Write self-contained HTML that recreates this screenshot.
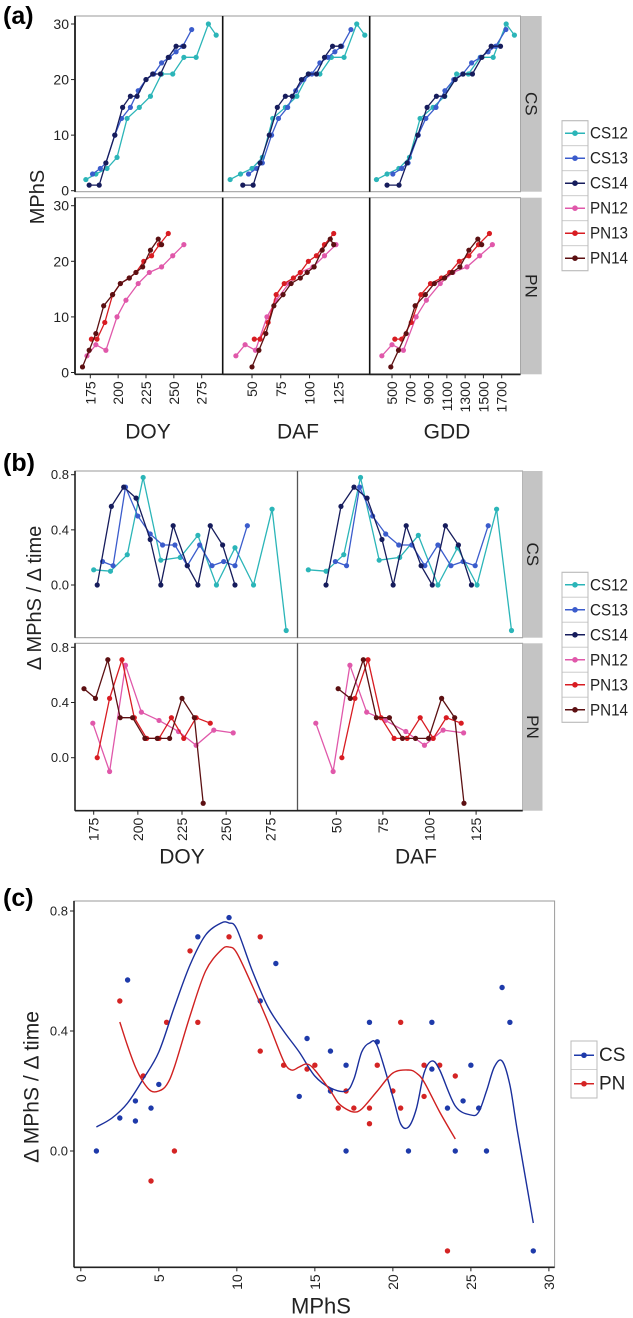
<!DOCTYPE html>
<html><head><meta charset="utf-8"><style>
html,body{margin:0;padding:0;background:#fff;}
svg{display:block;font-family:"Liberation Sans",sans-serif;}
</style></head><body>
<svg id="fig" width="633" height="1318" viewBox="0 0 633 1318" xmlns="http://www.w3.org/2000/svg">
<text x="3" y="24" font-size="25" font-weight="bold">(a)</text>
<text x="3" y="471" font-size="25" font-weight="bold">(b)</text>
<text x="3" y="906" font-size="25" font-weight="bold">(c)</text>
<g id="ga"></g>
<g id="gb"></g>
<g id="gc"></g>
</svg>
<script>
// ---------- Panel (a) data ----------
const cs12Doy=[171,180,190,199,208,219,229,239,249,259,270,281,288];
const cs12M=[2,3,4,6,13,15,17,21,21,24,24,30,28];
const cs12Daf=[31,40,50,59,68,79,89,99,109,119,130,141,148];
const cs12Gdd=[330,446,575,691,807,949,1078,1207,1336,1465,1607,1749,1839];
const cs13Doy=[177,184,189,197,203,211,218,225,232,239,246,252,258,266];
const cs13M=[3,4,5,10,13,15,18,20,21,23,24,25,26,29];
const cs13Daf=[47,54,59,67,73,81,88,95,102,109,116,122,128,136];
const cs13Gdd=[509,606,676,787,870,981,1079,1176,1273,1371,1468,1551,1634,1746];
const cs14Doy=[174,183,189,197,204,211,217,225,231,238,245,252,259];
const cs14M=[1,1,5,10,15,17,17,20,21,21,24,26,26];
const cs14Daf=[42,51,57,65,72,79,85,93,99,106,113,120,127];
const cs14Gdd=[446,577,665,782,884,986,1074,1191,1278,1380,1483,1585,1687];
const pn12Doy=[172,180,189,199,207,218,228,239,249,259];
const pn12M=[3,5,4,10,13,16,18,19,21,23];
const pn12Daf=[36,44,53,63,71,82,92,103,113,123];
const pn12Gdd=[389,500,625,764,876,1028,1167,1320,1459,1598];
const pn13Doy=[176,181,188,195,202,210,216,223,230,237,245];
const pn13M=[6,6,9,14,16,17,18,20,21,23,25];
const pn13Daf=[52,57,64,71,78,86,92,99,106,113,121];
const pn13Gdd=[531,606,711,816,921,1041,1131,1236,1341,1446,1566];
const pn14Doy=[168,174,180,187,195,202,210,216,222,229,236,239];
const pn14M=[1,4,7,12,14,16,17,18,19,22,24,23];
const pn14Daf=[50,56,62,69,77,84,92,98,104,111,118,121];
const pn14Gdd=[487,571,655,753,865,963,1075,1159,1243,1341,1439,1481];
const aYTicks=[0,10,20,30];
const doyTicksA=[175,200,225,250,275];
const dafTicksA=[50,75,100,125];
const gddTicksA=[500,700,900,1100,1300,1500,1700];
// ---------- Panel (b) data ----------
const bCs12Doy=[175,184.5,194,203,213,224,234,244.5,255,265.5,276,284];
const bCs12Daf=[35,44.5,54,63,73,84,94,104.5,115,125.5,136,144];
const bCs12V=[0.11,0.10,0.22,0.78,0.18,0.2,0.36,0,0.27,0,0.55,-0.33];
const bCs13Doy=[180,186,193,200,207,214,221,228,235,242,248.6,255,262];
const bCs13Daf=[49.5,55.5,62.5,69.5,76.5,83.5,90.5,97.5,104.5,111.5,118,124.5,131.5];
const bCs13V=[0.17,0.14,0.71,0.5,0.37,0.29,0.29,0.14,0.29,0.14,0.17,0.14,0.43];
const bCs14Doy=[177,185,192,199,207,213,220,228,234,241,248,255];
const bCs14Daf=[44.5,52.5,59.5,66.5,74.5,80.5,87.5,95.5,101.5,108.5,115.5,122.5];
const bCs14V=[0,0.57,0.71,0.63,0.33,0,0.43,0.14,0,0.43,0.29,0];
const bPn12Doy=[174.5,184,193,202,212,223,233,243,254];
const bPn12Daf=[39,48.3,57.3,66.3,76.3,87.3,97.3,107.3,118.3];
const bPn12V=[0.25,-0.1,0.67,0.33,0.27,0.19,0.09,0.2,0.18];
const bPn13Doy=[177,184,191,198,205,212,219,226,233,241];
const bPn13Daf=[53,60,67,74,81,88,95,102,109,117];
const bPn13V=[0,0.43,0.71,0.29,0.14,0.14,0.29,0.14,0.29,0.25];
const bPn14Doy=[169.5,176,183,190,197,204,211,218,225,232,237];
const bPn14Daf=[51,57.5,64.5,71.5,78.5,85.5,92.5,99.5,106.5,113.5,118.5];
const bPn14V=[0.5,0.43,0.71,0.29,0.29,0.14,0.14,0.14,0.43,0.29,-0.33];
const bYTicks=[0,0.4,0.8];
const doyTicksB=[175,200,225,250,275];
const dafTicksB=[50,75,100,125];
// ---------- Panel (c) data ----------
const cCsX=[1,2.5,3,3.5,3.5,4.5,5,7.5,9.5,11.5,12.5,14,14.5,16,16,17,17,18.5,19,21,22.5,22.5,23.5,24,24.5,25,25.5,26,27,27.5,29];
const cCsY=[0,0.11,0.57,0.1,0.167,0.143,0.222,0.714,0.778,0.5,0.625,0.182,0.375,0.333,0.2,0.286,0,0.429,0.364,0,0.429,0.273,0.143,0,0.167,0.286,0.143,0,0.545,0.429,-0.333];
const cPnX=[2.5,4,4.5,5.5,6,7,7.5,9.5,11.5,11.5,13,14.5,15,16.5,17,17.5,18.5,18.5,19,20,20.5,20.5,22,22,23,23.5,24];
const cPnY=[0.5,0.25,-0.1,0.429,0,0.667,0.429,0.714,0.714,0.333,0.286,0.273,0.286,0.143,0.2,0.143,0.143,0.091,0.286,0.2,0.429,0.143,0.286,0.182,0.286,-0.333,0.25];
const cCsFitX=[1,2,3,4,5,6,7,8,9,9.5,10,11,12,13,14,15,16,17,17.5,18,18.5,19,20,20.5,21,21.5,22,22.5,23,24,25,25.5,26,26.5,27,27.5,28,29];
const cCsFitY=[0.08,0.11,0.16,0.24,0.33,0.48,0.62,0.72,0.76,0.76,0.74,0.6,0.48,0.4,0.33,0.25,0.21,0.2,0.24,0.33,0.36,0.35,0.18,0.09,0.08,0.14,0.26,0.3,0.27,0.15,0.12,0.13,0.2,0.28,0.3,0.22,0.06,-0.24];
const cPnFitX=[2.5,3,3.5,4,4.5,5,5.5,6,7,8,9,9.5,10,11,12,13,13.5,14,14.5,15,16,16.5,17,17.5,18,19,20,21,21.5,22,23,24];
const cPnFitY=[0.43,0.35,0.28,0.23,0.2,0.2,0.22,0.28,0.45,0.6,0.67,0.68,0.66,0.55,0.43,0.3,0.27,0.28,0.29,0.27,0.2,0.16,0.14,0.13,0.14,0.2,0.26,0.27,0.26,0.23,0.13,0.04];
const cXTicks=[0,5,10,15,20,25,30];
const cYTicks=[0,0.4,0.8];

const NS="http://www.w3.org/2000/svg";
function mk(parent,tag,attrs,text){const e=document.createElementNS(NS,tag);for(const k in attrs)e.setAttribute(k,attrs[k]);if(text!==undefined)e.textContent=text;parent.appendChild(e);return e;}
function lin(d0,d1,r0,r1){return v=>r0+(v-d0)*(r1-r0)/(d1-d0);}
const COL={CS12:"#2bb5b8",CS13:"#3b5ccc",CS14:"#161c5c",PN12:"#e058aa",PN13:"#d81c22",PN14:"#5c1012"};

function series(g,xs,ys,sx,sy,color,name,r){
  const pts=xs.map((x,i)=>sx(x).toFixed(1)+","+sy(ys[i]).toFixed(1)).join(" ");
  const pl=mk(g,"polyline",{points:pts,fill:"none",stroke:color,"stroke-width":1.3});
  
  
  xs.forEach((x,i)=>{const c=mk(g,"circle",{cx:sx(x),cy:sy(ys[i]),r:r||2.6,fill:color});
    
    });
}
function frame(g,x0,y0,x1,y1,name){
  const r=mk(g,"rect",{x:x0,y:y0,width:x1-x0,height:y1-y0,fill:"#fff",stroke:"#9a9a9a","stroke-width":1});
  
  
}
function strip(g,x0,y0,x1,y1,label){
  const r=mk(g,"rect",{x:x0,y:y0,width:x1-x0,height:y1-y0,fill:"#c4c4c4"});
  
  
  const cx=(x0+x1)/2,cy=(y0+y1)/2;
  const t=mk(g,"text",{x:cx,y:cy,"font-size":17,"text-anchor":"middle","dominant-baseline":"central",fill:"#222",transform:`rotate(90 ${cx} ${cy})`},label);
  
  
}
function yAxis(g,x,y0,y1,ticks,sy,fmt,fs){
  mk(g,"line",{x1:x,y1:y0,x2:x,y2:y1,stroke:"#222","stroke-width":1.6});
  ticks.forEach(v=>{mk(g,"line",{x1:x-4,y1:sy(v),x2:x,y2:sy(v),stroke:"#222","stroke-width":1});
    const t=mk(g,"text",{x:x-6,y:sy(v),"font-size":fs||13,"text-anchor":"end","dominant-baseline":"central",fill:"#222"},fmt(v));
    
    });
}
function xAxis(g,y,x0,x1,ticks,sx,fs){
  mk(g,"line",{x1:x0,y1:y,x2:x1,y2:y,stroke:"#222","stroke-width":1.6});
  ticks.forEach(v=>{const x=sx(v);mk(g,"line",{x1:x,y1:y,x2:x,y2:y+4,stroke:"#222","stroke-width":1});
    const t=mk(g,"text",{x:x,y:y+7,"font-size":fs||13,"text-anchor":"end","dominant-baseline":"central",fill:"#222",transform:`rotate(-90 ${x} ${y+7})`},String(v));
    
    });
}
function label(g,x,y,txt,fs,rot,name){
  const t=mk(g,"text",{x:x,y:y,"font-size":fs,"text-anchor":"middle","dominant-baseline":"central",fill:"#222",transform:rot?`rotate(-90 ${x} ${y})`:""},txt);
  
  
}
function legend(g,x0,y0,h,entries,fs,tl){
  entries.forEach((e,i)=>{const y=y0+i*h;
    const r=mk(g,"rect",{x:x0,y:y,width:26,height:h,fill:"#fff",stroke:"#d0d0d0"});
    
    
    mk(g,"line",{x1:x0+3,y1:y+h/2,x2:x0+23,y2:y+h/2,stroke:e[1],"stroke-width":1.5});
    mk(g,"circle",{cx:x0+13,cy:y+h/2,r:2.8,fill:e[1]});
    const at={x:x0+28,y:y+h/2,"font-size":fs,"dominant-baseline":"central",fill:"#222"};
    if(tl){at.textLength=tl;at.lengthAdjust="spacingAndGlyphs";}
    const t=mk(g,"text",at,e[0]);
    
    });
  mk(g,"rect",{x:x0,y:y0,width:26,height:h*entries.length,fill:"none",stroke:"#bbb"});
}

// ---------- Draw (a) ----------
(function(){
  const g=document.getElementById("ga");
  const cols=[[75,222.7],[222.7,369.7],[369.7,520.5]];
  const rows=[[16,191.7],[197.7,374.3]];
  const syT=lin(0,30,190.7,24), syB=lin(0,30,372.5,205.7);
  const sx=[lin(175,275,90.3,201.7),lin(50,125,252,338.3),lin(500,1700,392,501.7)];
  const cs=[[cs12Doy,cs12Daf,cs12Gdd,cs12M,"CS12"],[cs13Doy,cs13Daf,cs13Gdd,cs13M,"CS13"],[cs14Doy,cs14Daf,cs14Gdd,cs14M,"CS14"]];
  const pn=[[pn12Doy,pn12Daf,pn12Gdd,pn12M,"PN12"],[pn13Doy,pn13Daf,pn13Gdd,pn13M,"PN13"],[pn14Doy,pn14Daf,pn14Gdd,pn14M,"PN14"]];
  [[rows[0],cs,syT,"CS"],[rows[1],pn,syB,"PN"]].forEach(([row,grp,sy,lab])=>{
    cols.forEach((c,ci)=>{
      frame(g,c[0],row[0],c[1],row[1],'facet-'+lab.toLowerCase()+'-'+ci);
      grp.forEach(s=>series(g,s[ci],s[3],sx[ci],sy,COL[s[4]],s[4].toLowerCase()));
      mk(g,"line",{x1:c[0],y1:row[0],x2:c[0],y2:row[1],stroke:"#111","stroke-width":1.6});
    });
    strip(g,520.7,row[0],541.7,row[1],lab);
    yAxis(g,75,row[0],row[1],aYTicks,sy,v=>String(v),14);
  });
  xAxis(g,374.3,75,520.5,doyTicksA,sx[0],14);
  xAxis(g,374.3,222.7,520.5,dafTicksA,sx[1],14);
  xAxis(g,374.3,369.7,520.5,gddTicksA,sx[2],14);
  label(g,38,197,"MPhS",20,true,"y-axis-title-a");
  label(g,148,432,"DOY",21,false,"x-axis-title-doy-a");
  label(g,298,432,"DAF",21,false,"x-axis-title-daf-a");
  label(g,447,432,"GDD",21,false,"x-axis-title-gdd-a");
  legend(g,562,120.7,25,[["CS12",COL.CS12],["CS13",COL.CS13],["CS14",COL.CS14],["PN12",COL.PN12],["PN13",COL.PN13],["PN14",COL.PN14]],17,38);
})();

// ---------- Draw (b) ----------
(function(){
  const g=document.getElementById("gb");
  const cols=[[75,297.5],[297.5,522.6]];
  const rows=[[471,637.7],[643.3,810.7]];
  const syT=lin(0,0.8,585,474.7), syB=lin(0,0.8,757.7,647.3);
  const sx=[lin(175,275,93.7,270.3),lin(50,125,336.3,476.1)];
  const cs=[[bCs12Doy,bCs12Daf,bCs12V,"CS12"],[bCs13Doy,bCs13Daf,bCs13V,"CS13"],[bCs14Doy,bCs14Daf,bCs14V,"CS14"]];
  const pn=[[bPn12Doy,bPn12Daf,bPn12V,"PN12"],[bPn13Doy,bPn13Daf,bPn13V,"PN13"],[bPn14Doy,bPn14Daf,bPn14V,"PN14"]];
  [[rows[0],cs,syT,"CS"],[rows[1],pn,syB,"PN"]].forEach(([row,grp,sy,lab])=>{
    cols.forEach((c,ci)=>{
      frame(g,c[0],row[0],c[1],row[1],'rate-facet-'+lab.toLowerCase()+'-'+ci);
      grp.forEach(s=>series(g,s[ci],s[2],sx[ci],sy,COL[s[3]],s[3].toLowerCase()+'-rate'));
    });
    mk(g,"line",{x1:297.5,y1:row[0],x2:297.5,y2:row[1],stroke:"#555","stroke-width":1.3});
    strip(g,522.6,row[0],542.5,row[1],lab);
    yAxis(g,75,row[0],row[1],bYTicks,sy,v=>v.toFixed(1),13);
  });
  xAxis(g,810.7,75,522.6,doyTicksB,sx[0],14);
  xAxis(g,810.7,297.5,522.6,dafTicksB,sx[1],14);
  label(g,35,598,"Δ MPhS / Δ time",20,true,"y-axis-title-b");
  label(g,182,857,"DOY",21,false,"x-axis-title-doy-b");
  label(g,416,857,"DAF",21,false,"x-axis-title-daf-b");
  legend(g,562,572.3,25,[["CS12",COL.CS12],["CS13",COL.CS13],["CS14",COL.CS14],["PN12",COL.PN12],["PN13",COL.PN13],["PN14",COL.PN14]],17,38);
})();

// ---------- Draw (c) ----------
(function(){
  const g=document.getElementById("gc");
  const sx=lin(0,30,80.8,548.9), sy=lin(0,0.8,1151,911);
  frame(g,74,901,554.6,1267.3,'scatter-plot-area');
  const CSC="#1e3aaa", PNC="#d42424";
  cCsX.forEach((x,i)=>{const c=mk(g,"circle",{cx:sx(x),cy:sy(cCsY[i]),r:2.7,fill:CSC});
    
    });
  cPnX.forEach((x,i)=>{const c=mk(g,"circle",{cx:sx(x),cy:sy(cPnY[i]),r:2.7,fill:PNC});
    
    });
  function smooth(xs,ys,color,name){
    const P=xs.map((x,i)=>[sx(x),sy(ys[i])]);
    let d="M"+P[0][0].toFixed(1)+","+P[0][1].toFixed(1);
    for(let i=0;i<P.length-1;i++){const p0=P[Math.max(0,i-1)],p1=P[i],p2=P[i+1],p3=P[Math.min(P.length-1,i+2)];
      const c1=[p1[0]+(p2[0]-p0[0])/6,p1[1]+(p2[1]-p0[1])/6],c2=[p2[0]-(p3[0]-p1[0])/6,p2[1]-(p3[1]-p1[1])/6];
      d+=` C${c1[0].toFixed(1)},${c1[1].toFixed(1)} ${c2[0].toFixed(1)},${c2[1].toFixed(1)} ${p2[0].toFixed(1)},${p2[1].toFixed(1)}`;}
    const p=mk(g,"path",{d:d,fill:"none",stroke:color,"stroke-width":1.4});
    
    
  }
  smooth(cCsFitX,cCsFitY,"#1a2f9c","cs-smooth-curve");
  smooth(cPnFitX,cPnFitY,"#d02020","pn-smooth-curve");
  yAxis(g,74,901,1267.3,cYTicks,sy,v=>v.toFixed(1),13);
  xAxis(g,1267.3,74,554.6,cXTicks,sx,14);
  label(g,32,1087,"Δ MPhS / Δ time",21,true,"y-axis-title-c");
  label(g,321,1306,"MPhS",22,false,"x-axis-title-c");
  legend(g,571,1041,28.5,[["CS",CSC],["PN",PNC]],19);
})();
</script>
</body></html>
